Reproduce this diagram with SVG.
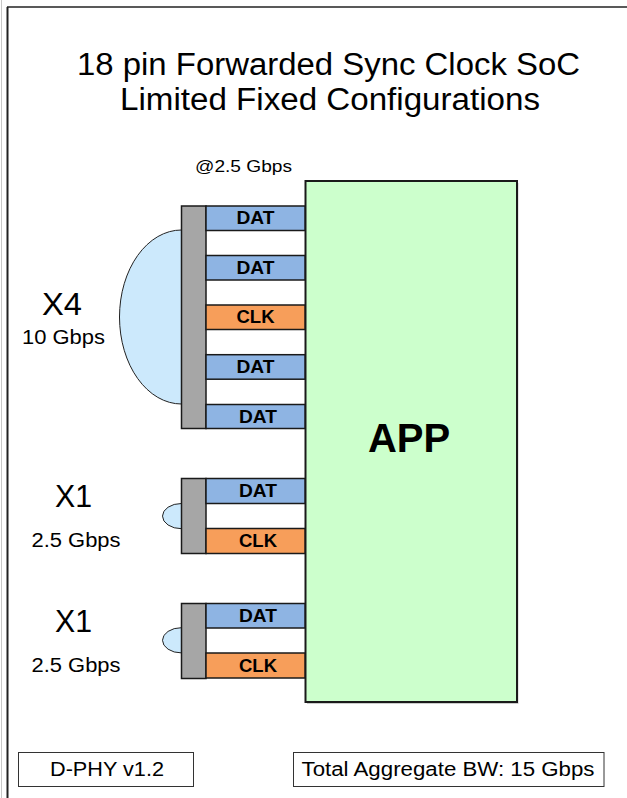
<svg xmlns="http://www.w3.org/2000/svg" width="627" height="798" viewBox="0 0 627 798">
  <style>
    text { font-family: "Liberation Sans", Arial, sans-serif; fill: #000; }
    .title { font-size: 31px; }
    .big { font-size: 31px; }
    .rate { font-size: 20px; }
    .lane { font-size: 17.5px; font-weight: bold; text-anchor: middle; }
    .dat { fill: #8eb4e3; stroke: #1a1a1a; stroke-width: 1.5; }
    .clk { fill: #f79e5a; stroke: #1a1a1a; stroke-width: 1.5; }
    .phy { fill: #a6a6a6; stroke: #1a1a1a; stroke-width: 1.5; }
    .lobe { fill: #cce9fc; stroke: #222; stroke-width: 1; }
    .note { fill: #fff; stroke: #333; stroke-width: 1; }
  </style>

  <rect x="0" y="0" width="627" height="798" fill="#fff"/>

  <!-- page frame -->
  <g id="frame">
    <line x1="1.5" y1="0" x2="1.5" y2="798" stroke="#c8c8c8" stroke-width="1"/>
    <line x1="7" y1="7" x2="627" y2="7" stroke="#222" stroke-width="1.5"/>
    <line x1="7.5" y1="7" x2="7.5" y2="798" stroke="#222" stroke-width="2"/>
  </g>

  <g id="title">
    <text class="title" x="77" y="75" textLength="503" lengthAdjust="spacingAndGlyphs">18 pin Forwarded Sync Clock SoC</text>
    <text class="title" x="120" y="110" textLength="420" lengthAdjust="spacingAndGlyphs">Limited Fixed Configurations</text>
  </g>

  <g id="lane-rate">
    <text x="195" y="171.5" font-size="16" textLength="97" lengthAdjust="spacingAndGlyphs">@2.5 Gbps</text>
  </g>

  <!-- application block -->
  <g id="app">
    <rect x="307" y="183" width="211.5" height="521" fill="#999" opacity="0.5"/>
    <rect x="305.5" y="181" width="211.5" height="521" fill="#ccffcc" stroke="#1a1a1a" stroke-width="2"/>
    <text x="409" y="452" font-size="40" font-weight="bold" text-anchor="middle">APP</text>
  </g>

  <!-- x4 link: 4 data lanes + clock -->
  <g id="link-x4">
    <path class="lobe" d="M181.5,230 A62,87 0 0 0 181.5,404 Z"/>
    <rect class="phy" x="181.5" y="206" width="24.5" height="222.5"/>
    <rect class="dat" x="206" y="206" width="99" height="24.5"/>
    <rect class="dat" x="206" y="255.5" width="99" height="24.5"/>
    <rect class="clk" x="206" y="305" width="99" height="24.5"/>
    <rect class="dat" x="206" y="354.7" width="99" height="24.5"/>
    <rect class="dat" x="206" y="404.5" width="99" height="24"/>
    <text class="lane" x="255.5" y="224" textLength="38" lengthAdjust="spacingAndGlyphs">DAT</text>
    <text class="lane" x="255.5" y="273.5" textLength="38" lengthAdjust="spacingAndGlyphs">DAT</text>
    <text class="lane" x="255.5" y="323" textLength="38" lengthAdjust="spacingAndGlyphs">CLK</text>
    <text class="lane" x="255.5" y="372.7" textLength="38" lengthAdjust="spacingAndGlyphs">DAT</text>
    <text class="lane" x="258" y="422.5" textLength="38" lengthAdjust="spacingAndGlyphs">DAT</text>
    <text class="big" x="42" y="315" textLength="40" lengthAdjust="spacingAndGlyphs">X4</text>
    <text class="rate" x="22" y="344" textLength="83" lengthAdjust="spacingAndGlyphs">10 Gbps</text>
  </g>

  <!-- x1 link A -->
  <g id="link-x1-a">
    <path class="lobe" d="M181.5,503.5 A19,12.6 0 0 0 181.5,528.7 Z"/>
    <rect class="phy" x="181.5" y="478.5" width="24.5" height="75"/>
    <rect class="dat" x="206" y="478.5" width="99" height="25"/>
    <rect class="clk" x="206" y="528.5" width="99" height="25"/>
    <text class="lane" x="258" y="497" textLength="38" lengthAdjust="spacingAndGlyphs">DAT</text>
    <text class="lane" x="258" y="547" textLength="38" lengthAdjust="spacingAndGlyphs">CLK</text>
    <text class="big" x="55" y="506.5" textLength="37" lengthAdjust="spacingAndGlyphs">X1</text>
    <text class="rate" x="31.5" y="547.3" textLength="89" lengthAdjust="spacingAndGlyphs">2.5 Gbps</text>
  </g>

  <!-- x1 link B -->
  <g id="link-x1-b">
    <path class="lobe" d="M181.5,627.7 A19,12.6 0 0 0 181.5,652.9 Z"/>
    <rect class="phy" x="181.5" y="603.5" width="24.5" height="75"/>
    <rect class="dat" x="206" y="603.5" width="99" height="24.5"/>
    <rect class="clk" x="206" y="653" width="99" height="25"/>
    <text class="lane" x="258" y="621.5" textLength="38" lengthAdjust="spacingAndGlyphs">DAT</text>
    <text class="lane" x="258" y="671.5" textLength="38" lengthAdjust="spacingAndGlyphs">CLK</text>
    <text class="big" x="55" y="631.5" textLength="37" lengthAdjust="spacingAndGlyphs">X1</text>
    <text class="rate" x="31.5" y="671.5" textLength="89" lengthAdjust="spacingAndGlyphs">2.5 Gbps</text>
  </g>

  <!-- footer notes -->
  <g id="note-phy">
    <rect class="note" x="18.5" y="752.5" width="175" height="34"/>
    <text x="50" y="776" font-size="20" textLength="114" lengthAdjust="spacingAndGlyphs">D-PHY v1.2</text>
  </g>
  <g id="note-bw">
    <rect class="note" x="293.5" y="752.5" width="310.5" height="34"/>
    <text x="301.5" y="776" font-size="20" textLength="293" lengthAdjust="spacingAndGlyphs">Total Aggregate BW: 15 Gbps</text>
  </g>
</svg>
